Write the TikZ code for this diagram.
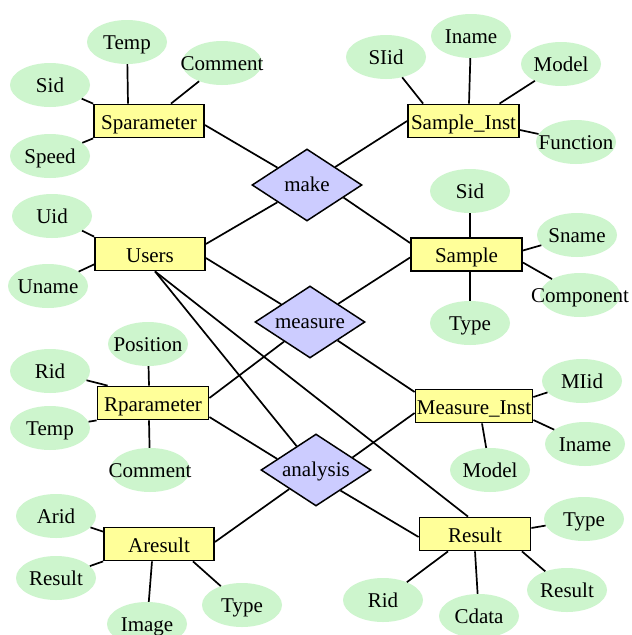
\documentclass[tikz,border=0pt]{standalone}
\usepackage{fontspec}
\setmainfont{Liberation Serif}
\usetikzlibrary{shapes.geometric}
\definecolor{attrgreen}{RGB}{205,245,205}
\definecolor{entyellow}{RGB}{255,255,153}
\definecolor{relviolet}{RGB}{204,204,255}
% attribute text is centred in a zero-width box so long words overflow the ellipse
\newcommand{\attxt}[1]{\makebox[0pt]{#1}}
\begin{document}
\begin{tikzpicture}[x=1pt,y=-1pt,
  font=\fontsize{21}{25}\selectfont,
  entity/.style={rectangle,draw=black,line width=1.8pt,fill=entyellow,
    minimum width=110pt,minimum height=33pt,inner sep=0pt,
    text height=16.5pt,text depth=0pt},
  attr/.style={ellipse,fill=attrgreen,minimum width=80pt,minimum height=44pt,inner sep=0pt,
    text height=15pt,text depth=0pt},
  rel/.style={diamond,draw=black,line width=1.5pt,fill=relviolet,aspect=1.5,
    minimum width=110pt,minimum height=72pt,inner sep=0pt,
    text height=12pt,text depth=0pt},
  link/.style={line width=1.7pt}]
\fill[white] (0,0) rectangle (632,635);
\useasboundingbox (0,0) rectangle (632,635);

% entities
\node[entity] (sp) at (149,121) {Sparameter};
\node[entity,minimum width=111pt] (si) at (463.5,121) {Sample\_Inst};
\node[entity] (us) at (150,254) {Users};
\node[entity,minimum width=111pt] (sa) at (466.5,254.5) {Sample};
\node[entity,minimum width=111pt] (rp) at (153,403) {Rparameter};
\node[entity,minimum width=117pt] (mi) at (474,406) {Measure\_Inst};
\node[entity] (ar) at (159,544) {Aresult};
\node[entity,minimum width=111pt] (re) at (475,534) {Result};

% relationships
\node[rel] (make) at (307,185) {make};
\node[rel] (meas) at (310,322) {measure};
\node[rel] (ana) at (316,470) {analysis};

% attributes
\node[attr] (temp1) at (127,42) {\attxt{Temp}};
\node[attr] (comment1) at (222,63) {\attxt{Comment}};
\node[attr] (sid1) at (50,85) {\attxt{Sid}};
\node[attr] (speed) at (50,156) {\attxt{Speed}};

\node[attr] (siid) at (386,57) {\attxt{SIid}};
\node[attr] (iname1) at (471,36) {\attxt{Iname}};
\node[attr] (model1) at (561,64) {\attxt{Model}};
\node[attr] (function) at (576,142) {\attxt{Function}};

\node[attr] (uid) at (52,216) {\attxt{Uid}};
\node[attr] (uname) at (48,286) {\attxt{Uname}};

\node[attr] (sid2) at (470,191) {\attxt{Sid}};
\node[attr] (sname) at (577,235) {\attxt{Sname}};
\node[attr] (component) at (580,295) {\attxt{Component}};
\node[attr] (type1) at (470,323) {\attxt{Type}};

\node[attr] (position) at (148,344) {\attxt{Position}};
\node[attr] (rid1) at (50,371) {\attxt{Rid}};
\node[attr] (temp2) at (50,428) {\attxt{Temp}};
\node[attr] (comment2) at (150,470) {\attxt{Comment}};

\node[attr] (miid) at (582,381) {\attxt{MIid}};
\node[attr] (iname2) at (585,444) {\attxt{Iname}};
\node[attr] (model2) at (490,470) {\attxt{Model}};

\node[attr] (arid) at (56,516) {\attxt{Arid}};
\node[attr] (result2) at (56,578) {\attxt{Result}};
\node[attr] (image) at (147,624) {\attxt{Image}};
\node[attr] (type2) at (242,605) {\attxt{Type}};

\node[attr] (type3) at (584,519) {\attxt{Type}};
\node[attr] (result3) at (567,590) {\attxt{Result}};
\node[attr] (cdata) at (479,616) {\attxt{Cdata}};
\node[attr] (rid2) at (383,600) {\attxt{Rid}};

% Sparameter
\draw[link] (sp.north west) -- (sid1);
\draw[link] ([xshift=-21pt]sp.north) -- (temp1);
\draw[link] ([xshift=22pt]sp.north) -- (comment1);
\draw[link] (sp.south west) -- (speed);
\draw[link] ([yshift=-4pt]sp.east) -- (make);

% Sample_Inst
\draw[link] ([xshift=16pt]si.north west) -- (siid);
\draw[link] ([xshift=5.5pt]si.north) -- (iname1);
\draw[link] ([xshift=36pt]si.north) -- (model1);
\draw[link] ([yshift=-9pt]si.east) -- (function);
\draw[link] (si.west) -- (make);

% Users
\draw[link] (us.north west) -- (uid);
\draw[link] ([yshift=7pt]us.south west) -- (uname);
\draw[link] ([yshift=10pt]us.east) -- (make);
\draw[link] ([yshift=-4pt]us.east) -- (meas);
\draw[link] ([xshift=5pt]us.south) -- (ana);
\draw[link] ([xshift=5pt]us.south) -- ([xshift=-7pt]re.north);

% Sample
\draw[link] ([xshift=3.5pt]sa.north) -- (sid2);
\draw[link] ([yshift=4pt]sa.east) -- (sname);
\draw[link] ([yshift=-8pt]sa.east) -- (component);
\draw[link] ([xshift=3.5pt]sa.south) -- (type1);
\draw[link] ([yshift=11.5pt]sa.west) -- (make.-19);
\draw[link] ([yshift=-3pt]sa.west) -- (meas);

% Rparameter
\draw[link] ([xshift=-4pt]rp.north) -- (position);
\draw[link] ([xshift=11pt]rp.north west) -- (rid1);
\draw[link] (rp.south west) -- (temp2);
\draw[link] ([xshift=-4pt]rp.south) -- (comment2);
\draw[link] ([yshift=5pt]rp.east) -- (meas);
\draw[link] ([yshift=-14pt]rp.east) -- (ana.164);

% Measure_Inst
\draw[link] ([yshift=9pt]mi.east) -- (miid);
\draw[link] ([yshift=-14pt]mi.east) -- (iname2);
\draw[link] ([xshift=8pt]mi.south) -- (model2);
\draw[link] ([yshift=14pt]mi.west) -- (meas);
\draw[link] ([yshift=-7pt]mi.west) -- (ana.19);

% Result
\draw[link] ([yshift=6pt]re.east) -- (type3);
\draw[link] ([xshift=47pt]re.south) -- (result3);
\draw[link] (re.south) -- (cdata);
\draw[link] ([xshift=-27pt]re.south) -- (rid2);
\draw[link] ([yshift=-3pt]re.west) -- (ana.-40);

% Aresult
\draw[link] ([yshift=-5pt]ar.north west) -- (arid);
\draw[link] (ar.south west) -- (result2);
\draw[link] ([xshift=-7pt]ar.south) -- (image);
\draw[link] ([xshift=34pt]ar.south) -- (type2);
\draw[link] ([yshift=2pt]ar.east) -- (ana);
\end{tikzpicture}
\end{document}
